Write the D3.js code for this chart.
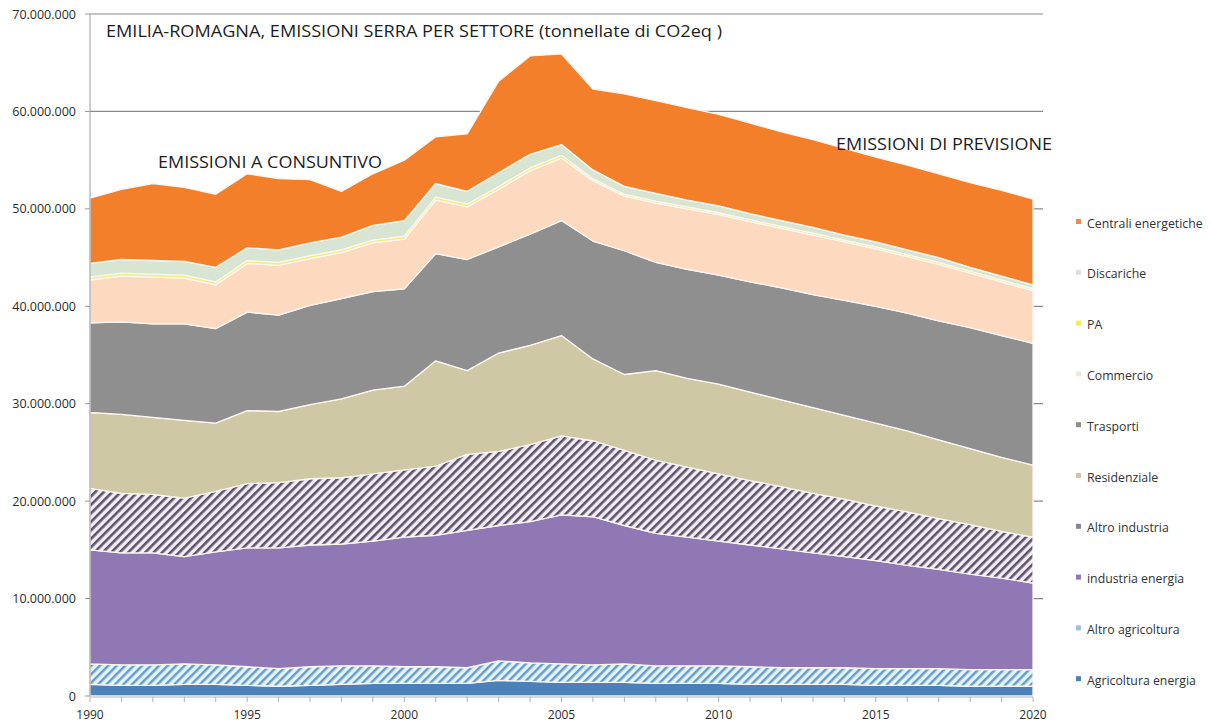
<!DOCTYPE html>
<html><head><meta charset="utf-8">
<script src="https://cdn.jsdelivr.net/npm/d3@7"></script>
<style>
html,body{margin:0;padding:0;background:#fff;}
svg{display:block;}
</style></head>
<body>
<svg id="chart" width="1211" height="726"></svg>
<script>
// ---- DATA (million tonnes CO2eq) ----
const years = d3.range(1990, 2021);
const seriesNames = ["Agricoltura energia","Altro agricoltura","industria energia","Altro industria","Residenziale","Trasporti","Commercio","PA","Discariche","Centrali energetiche"];
const agricolturaEnergia = [1.2,1.1,1.1,1.2,1.2,1.1,1.0,1.1,1.2,1.3,1.3,1.3,1.3,1.6,1.5,1.4,1.4,1.4,1.3,1.3,1.3,1.2,1.2,1.2,1.2,1.1,1.1,1.1,1.0,1.0,1.0];
const altroAgricoltura = [2.1,2.1,2.1,2.1,2.0,1.9,1.8,1.9,1.9,1.8,1.7,1.7,1.6,2.0,1.9,1.9,1.8,1.9,1.8,1.8,1.8,1.8,1.7,1.7,1.7,1.7,1.7,1.7,1.7,1.7,1.7];
const industriaEnergia = [11.7,11.5,11.5,11.0,11.6,12.2,12.4,12.5,12.5,12.8,13.3,13.5,14.1,13.9,14.5,15.3,15.2,14.2,13.6,13.2,12.8,12.5,12.2,11.8,11.4,11.1,10.6,10.2,9.8,9.4,8.9];
const altroIndustria = [6.3,6.1,6.0,6.0,6.2,6.6,6.7,6.8,6.8,6.9,6.9,7.1,7.8,7.6,7.9,8.1,7.8,7.7,7.5,7.2,6.9,6.6,6.4,6.1,5.9,5.6,5.5,5.2,5.1,4.8,4.7];
const residenziale = [7.8,8.1,7.9,8.0,7.0,7.5,7.3,7.6,8.1,8.6,8.6,10.8,8.6,10.1,10.2,10.3,8.4,7.8,9.2,9.1,9.2,9.1,8.9,8.8,8.6,8.5,8.3,8.1,7.8,7.6,7.4];
const trasporti = [9.2,9.5,9.6,9.9,9.7,10.1,9.9,10.2,10.3,10.1,10.0,11.0,11.4,10.9,11.4,11.8,12.1,12.7,11.1,11.2,11.2,11.3,11.5,11.6,11.8,12.0,12.1,12.2,12.4,12.5,12.5];
const commercio = [4.4,4.7,4.8,4.7,4.5,5.0,5.1,4.8,4.7,5.0,5.1,5.5,5.4,5.9,6.5,6.4,6.2,5.6,6.1,6.2,6.2,6.2,6.1,6.1,6.0,5.9,5.8,5.8,5.6,5.5,5.4];
const pa = [0.3,0.3,0.3,0.3,0.3,0.3,0.3,0.3,0.3,0.3,0.3,0.3,0.3,0.3,0.3,0.3,0.2,0.2,0.2,0.2,0.2,0.2,0.2,0.2,0.2,0.2,0.2,0.2,0.2,0.2,0.2];
const discariche = [1.4,1.4,1.4,1.4,1.5,1.3,1.3,1.3,1.3,1.5,1.6,1.4,1.3,1.4,1.4,1.1,0.9,0.8,0.8,0.7,0.7,0.6,0.6,0.6,0.5,0.5,0.5,0.5,0.4,0.4,0.4];
const centraliEnergetiche = [6.7,7.2,7.9,7.6,7.5,7.6,7.3,6.5,4.7,5.3,6.2,4.8,5.9,9.4,10.1,9.3,8.3,9.5,9.5,9.5,9.4,9.3,9.1,9.0,8.9,8.7,8.7,8.6,8.7,8.8,8.8];
const yTicks = [0,10e6,20e6,30e6,40e6,50e6,60e6,70e6];
const yTickLabels = ["0","10.000.000","20.000.000","30.000.000","40.000.000","50.000.000","60.000.000","70.000.000"];
const xTickLabels = [1990,1995,2000,2005,2010,2015,2020];
const title = "EMILIA-ROMAGNA, EMISSIONI SERRA PER SETTORE (tonnellate di CO2eq )";

const valuesBySeries = [agricolturaEnergia,altroAgricoltura,industriaEnergia,altroIndustria,residenziale,trasporti,commercio,pa,discariche,centraliEnergetiche];
const table = years.map((y,i)=>{const o={year:y}; seriesNames.forEach((k,j)=>o[k]=valuesBySeries[j][i]*1e6); return o;});

const fills = {
 "Agricoltura energia":"#4b80b8",
 "Altro agricoltura":"url(#hatchBlue)",
 "industria energia":"#8f78b3",
 "Altro industria":"url(#hatchDark)",
 "Residenziale":"#cec8a5",
 "Trasporti":"#8f8f8f",
 "Commercio":"#fcd9bf",
 "PA":"#f3ee84",
 "Discariche":"#d8e5d2",
 "Centrali energetiche":"#f47f2b"
};
const legendColors = {
 "Agricoltura energia":"#4b80b8",
 "Altro agricoltura":"#9cc3df",
 "industria energia":"#8f78b3",
 "Altro industria":"#8a8499",
 "Residenziale":"#cec8a5",
 "Trasporti":"#8f8f8f",
 "Commercio":"#f0e6df",
 "PA":"#f4ee5a",
 "Discariche":"#dde1da",
 "Centrali energetiche":"#f08a4a"
};

const svg = d3.select("#chart");
const defs = svg.append("defs");
function hatch(id,bg,fg,w){
  const p = defs.append("pattern").attr("id",id).attr("patternUnits","userSpaceOnUse")
    .attr("width",6).attr("height",6).attr("patternTransform","rotate(45)");
  p.append("rect").attr("width",6).attr("height",6).attr("fill",bg);
  p.append("rect").attr("x",0).attr("y",0).attr("width",w).attr("height",6).attr("fill",fg);
}
hatch("hatchBlue","#e2f5fb","#6b9cc6",2.5);
hatch("hatchDark","#f6ecf7","#5a556c",2.6);

const x = d3.scaleLinear().domain([1990,2020]).range([90,1033]);
const y = d3.scaleLinear().domain([0,70e6]).range([696,14]);

// gridlines
svg.append("g").selectAll("line").data(yTicks.filter(d=>d>0)).join("line")
  .attr("x1",90).attr("x2",1043).attr("y1",d=>y(d)).attr("y2",d=>y(d))
  .attr("stroke","#8a8a8a").attr("stroke-width",1.2);

const stack = d3.stack().keys(seriesNames);
const layers = stack(table);
const area = d3.area().x(d=>x(d.data.year)).y0(d=>y(d[0])).y1(d=>y(d[1]));
svg.append("g").selectAll("path").data(layers).join("path")
  .attr("d",area).attr("fill",d=>fills[d.key])
  .attr("stroke","#fbf6f2").attr("stroke-width",1.3).attr("stroke-linejoin","round");

// y axis
const font = "Open Sans, sans-serif";
const yAxis = svg.append("g");
yAxis.append("line").attr("x1",90).attr("x2",90).attr("y1",y(70e6)).attr("y2",y(0)).attr("stroke","#9a9a9a").attr("stroke-width",1);
yAxis.selectAll("line.t").data(yTicks).join("line").attr("class","t")
  .attr("x1",85).attr("x2",90).attr("y1",d=>y(d)).attr("y2",d=>y(d)).attr("stroke","#9a9a9a");
yAxis.selectAll("text").data(yTicks).join("text")
  .attr("x",76).attr("y",d=>y(d)+4.5).attr("text-anchor","end")
  .attr("font-family",font).attr("font-size",12.5).attr("fill","#2b2b2b")
  .text((d,i)=>yTickLabels[i]);

// x axis
const xAxis = svg.append("g");
xAxis.append("line").attr("x1",90).attr("x2",1033).attr("y1",697).attr("y2",697).attr("stroke","#a9b8c8").attr("stroke-width",1);
xAxis.selectAll("line.t").data(years).join("line").attr("class","t")
  .attr("x1",d=>x(d)).attr("x2",d=>x(d)).attr("y1",697).attr("y2",702).attr("stroke","#b0b0b0");
xAxis.selectAll("text").data(xTickLabels).join("text")
  .attr("x",d=>x(d)).attr("y",719).attr("text-anchor","middle")
  .attr("font-family",font).attr("font-size",12).attr("fill","#2b2b2b")
  .text(d=>d);

// titles
svg.append("text").attr("x",106).attr("y",37)
  .attr("font-family",font).attr("font-size",17).attr("font-weight",500).attr("fill","#1e1e1e")
  .attr("textLength",616).attr("lengthAdjust","spacingAndGlyphs").text(title);
svg.append("text").attr("x",158).attr("y",168)
  .attr("font-family",font).attr("font-size",16.5).attr("font-weight",500).attr("fill","#1e1e1e")
  .attr("textLength",224).attr("lengthAdjust","spacingAndGlyphs").text("EMISSIONI A CONSUNTIVO");
svg.append("text").attr("x",836).attr("y",150)
  .attr("font-family",font).attr("font-size",16.5).attr("font-weight",500).attr("fill","#1e1e1e")
  .attr("textLength",216).attr("lengthAdjust","spacingAndGlyphs").text("EMISSIONI DI PREVISIONE");

// legend
const legendOrder = seriesNames.slice().reverse();
const lg = svg.append("g");
legendOrder.forEach((k,i)=>{
  const ly = 223 + i*50.8;
  lg.append("rect").attr("x",1076).attr("y",ly-4).attr("width",5).attr("height",5).attr("fill",legendColors[k]);
  lg.append("text").attr("x",1087).attr("y",ly+4.5)
    .attr("font-family",font).attr("font-size",12.3).attr("fill","#333").text(k);
});
</script>
</body></html>
